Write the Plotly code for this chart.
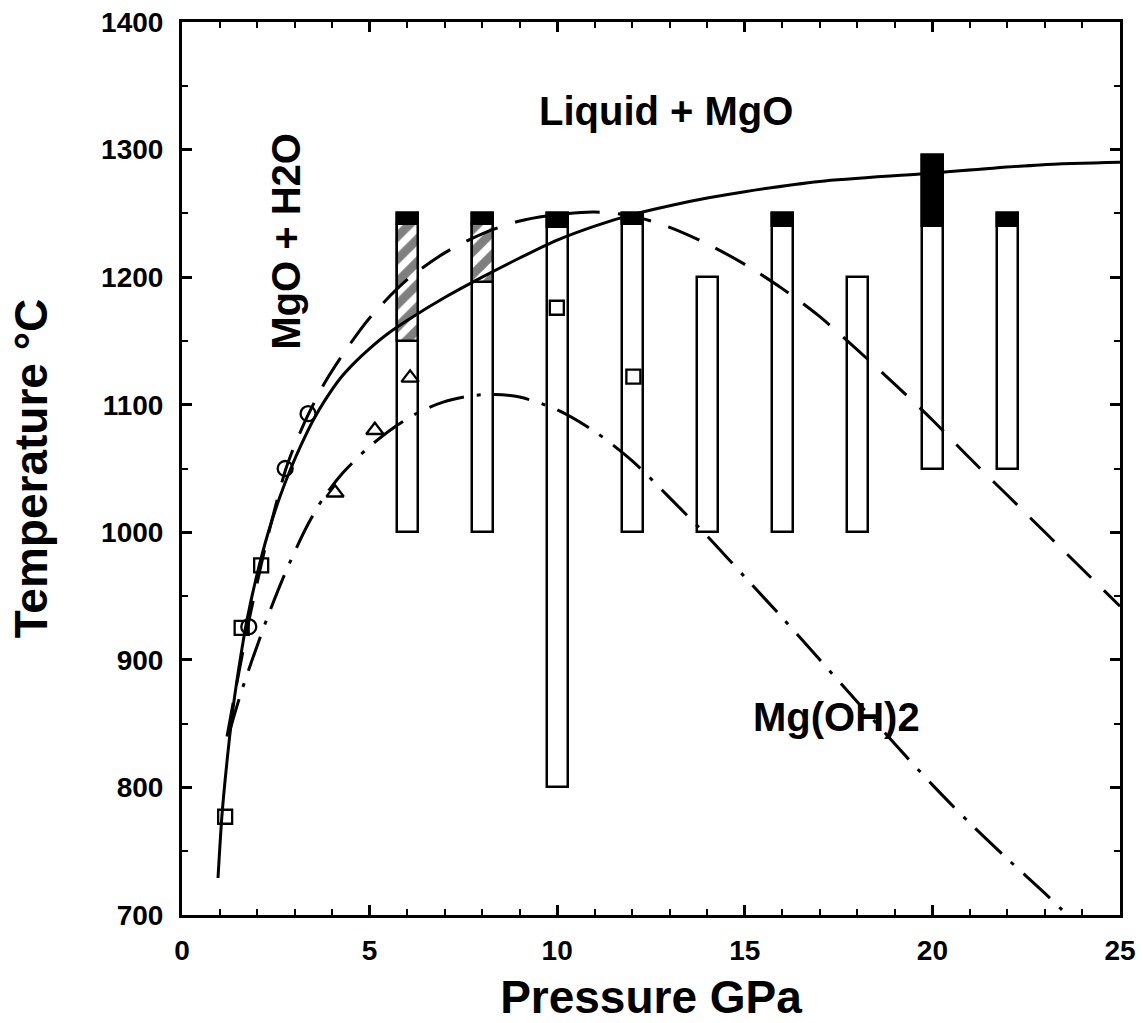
import plotly.graph_objects as go

# ---------------- data ----------------
# experimental runs (vertical bars): pressure, lowest and highest temperature
bar_p = [6, 8, 10, 12, 14, 16, 18, 20, 22]
bar_bottom = [1000, 1000, 800, 1000, 1000, 1000, 1000, 1050, 1050]
bar_top = [1250, 1250, 1250, 1250, 1200, 1250, 1200, 1296, 1250]

# hatched part of bars
hatch_p = [6, 8]
hatch_low = [1150, 1196]
hatch_high = [1242, 1242]

# black (melt) part of bars
melt_p = [6, 8, 10, 12, 16, 20, 22]
melt_low = [1242, 1242, 1239, 1242, 1240, 1240, 1240]
melt_high = [1250, 1250, 1250, 1250, 1250, 1296, 1250]

# solid curve
solid_p = [0.96, 1.07, 1.23, 1.36, 1.55, 1.73, 2.0, 2.3, 2.6, 2.9, 3.2, 3.5, 3.8,
           4.2, 4.6, 5.0, 5.5, 6.0, 7.0, 8.0, 9.0, 10.0, 11.0, 12.0, 13.0, 14.0, 15.0,
           17.0, 19.75, 22.87, 25.0]
solid_t = [729, 780, 829, 862, 900, 931, 967, 1000, 1027, 1050, 1070, 1088, 1103,
           1120, 1133, 1144, 1156, 1166, 1184, 1200, 1215, 1229, 1240, 1249, 1256, 1262,
           1267, 1275, 1281, 1288, 1290]

# dashed curve
dashed_p = [1.2, 1.4, 1.6, 1.8, 2.0, 2.2, 2.4, 2.75, 3.0, 3.36, 3.8, 4.3, 5.0, 6.0,
            7.0, 8.0, 9.0, 10.0, 11.0, 12.0, 13.0, 14.0, 15.0, 16.0, 17.0, 18.0,
            19.0, 20.0, 21.0, 22.0, 23.0, 24.0, 25.0]
dashed_t = [840, 872, 903, 933, 960, 986, 1010, 1048, 1068, 1092, 1117, 1140, 1168,
            1198, 1219, 1234, 1244, 1249, 1251, 1248, 1239, 1226, 1210, 1191, 1169,
            1143, 1116, 1088, 1058, 1029, 1000, 971, 942]

# dash-dot curve (Mg(OH)2 stability)
dashdot_p = [1.25, 1.56, 1.87, 2.3, 2.75, 3.3, 3.77, 4.3, 4.95, 5.64, 6.3, 6.96, 7.7,
             8.3, 9.0, 10.0, 11.0, 12.0, 13.0, 14.0, 15.0, 16.0, 17.0, 18.0, 19.0,
             20.0, 21.0, 22.0, 23.0, 23.56]
dashdot_t = [842, 873, 900, 935, 968, 1003, 1027, 1047, 1066, 1082, 1094, 1102, 1107,
             1108, 1106, 1096, 1079, 1056, 1027, 997, 965, 933, 900, 867, 834,
             802, 772, 744, 717, 701]

# data points
square_p = [1.15, 1.59, 2.11, 9.99, 12.03]
square_t = [777, 925, 974, 1176, 1122]
circle_p = [1.78, 2.75, 3.36]
circle_t = [926, 1050, 1093]
triangle_p = [4.08, 5.14, 6.08]
triangle_t = [1031, 1080, 1121]

x_ticks = [0, 5, 10, 15, 20, 25]
y_ticks = [700, 800, 900, 1000, 1100, 1200, 1300, 1400]

FONT = "Liberation Sans, Arial, Helvetica, sans-serif"
BAR_W = 0.56

fig = go.Figure()

# bars: white body
fig.add_trace(go.Bar(
    x=bar_p, y=[t - b for t, b in zip(bar_top, bar_bottom)], base=bar_bottom,
    width=BAR_W, marker=dict(color="white", line=dict(color="black", width=2.5)),
    showlegend=False, hoverinfo="skip"))
# hatched part
fig.add_trace(go.Bar(
    x=hatch_p, y=[t - b for t, b in zip(hatch_high, hatch_low)], base=hatch_low,
    width=BAR_W,
    marker=dict(color="white", line=dict(color="black", width=2.5),
                pattern=dict(shape="/", fgcolor="black", bgcolor="white",
                             size=16, solidity=0.55)),
    showlegend=False, hoverinfo="skip"))
# black part
fig.add_trace(go.Bar(
    x=melt_p, y=[t - b for t, b in zip(melt_high, melt_low)], base=melt_low,
    width=BAR_W, marker=dict(color="black", line=dict(color="black", width=2.5)),
    showlegend=False, hoverinfo="skip"))

# curves
fig.add_trace(go.Scatter(x=solid_p, y=solid_t, mode="lines",
                         line=dict(color="black", width=3, shape="spline", smoothing=0.8),
                         showlegend=False, hoverinfo="skip"))
fig.add_trace(go.Scatter(x=dashed_p, y=dashed_t, mode="lines",
                         line=dict(color="black", width=3, dash="34px,18px",
                                   shape="spline", smoothing=0.8),
                         showlegend=False, hoverinfo="skip"))
fig.add_trace(go.Scatter(x=dashdot_p, y=dashdot_t, mode="lines",
                         line=dict(color="black", width=3, dash="36px,13px,4px,13px",
                                   shape="spline", smoothing=0.8),
                         showlegend=False, hoverinfo="skip"))

# markers
fig.add_trace(go.Scatter(x=square_p, y=square_t, mode="markers",
                         marker=dict(symbol="square-open", size=14, color="black",
                                     line=dict(width=2.3)),
                         showlegend=False))
fig.add_trace(go.Scatter(x=circle_p, y=circle_t, mode="markers",
                         marker=dict(symbol="circle-open", size=15, color="black",
                                     line=dict(width=2.3)),
                         showlegend=False))
fig.add_trace(go.Scatter(x=triangle_p, y=triangle_t, mode="markers",
                         marker=dict(symbol="triangle-up-open", size=15, color="black",
                                     line=dict(width=2.3)),
                         showlegend=False))

# region labels
label_font = dict(family=FONT, size=40, color="black", weight="bold")
fig.add_annotation(x=12.9, y=1330, text="Liquid + MgO", showarrow=False,
                   font=label_font, xanchor="center", yanchor="middle")
fig.add_annotation(x=2.78, y=1228, text="MgO + H2O", showarrow=False,
                   font=label_font, textangle=-90, xanchor="center", yanchor="middle")
fig.add_annotation(x=17.45, y=855, text="Mg(OH)2", showarrow=False,
                   font=label_font, xanchor="center", yanchor="middle")

tick_font = dict(family=FONT, size=28, color="black", weight="bold")
title_font = dict(family=FONT, size=46, color="black", weight="bold")

fig.update_layout(
    width=1143, height=1023,
    margin=dict(l=182, r=23, t=22, b=108),
    paper_bgcolor="white", plot_bgcolor="white",
    barmode="overlay", bargap=0,
    xaxis=dict(
        range=[0, 25], tickmode="array", tickvals=x_ticks,
        ticktext=[str(v) for v in x_ticks],
        ticks="inside", ticklen=10, tickwidth=2.5, tickcolor="black",
        minor=dict(dtick=1, ticks="inside", ticklen=6, tickwidth=2, tickcolor="black"),
        showline=True, linewidth=3, linecolor="black", mirror="ticks",
        showgrid=False, zeroline=False, tickfont=tick_font, ticklabelstandoff=8,
        automargin=False,
        title=dict(text="Pressure GPa", font=title_font, standoff=18),
    ),
    yaxis=dict(
        range=[700, 1400], tickmode="array", tickvals=y_ticks,
        ticktext=[str(v) for v in y_ticks],
        ticks="inside", ticklen=10, tickwidth=2.5, tickcolor="black",
        minor=dict(dtick=50, ticks="inside", ticklen=6, tickwidth=2, tickcolor="black"),
        showline=True, linewidth=3, linecolor="black", mirror="ticks",
        showgrid=False, zeroline=False, tickfont=tick_font, ticklabelstandoff=10,
        automargin=False,
        title=dict(text="Temperature °C", font=title_font, standoff=40),
    ),
)

fig.write_html("out.html")
